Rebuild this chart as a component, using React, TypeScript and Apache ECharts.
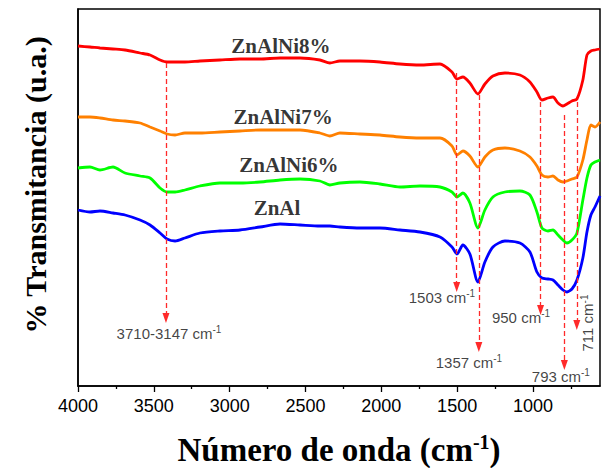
import React, { useEffect, useRef } from "react";
import * as echarts from "echarts";

const wavenumbers = [4000, 3921, 3855, 3769, 3690, 3591, 3525, 3459, 3413, 3360, 3295, 3196, 3064, 2932, 2800, 2668, 2536, 2405, 2339, 2273, 2141, 2009, 1877, 1745, 1613, 1534, 1501, 1462, 1416, 1363, 1317, 1264, 1185, 1086, 1020, 974, 941, 901, 868, 835, 802, 776, 743, 710, 671, 644, 618, 591, 558];

const znAlNi8 = [340, 339, 338, 337, 336, 333, 331, 326, 324, 324, 324, 325, 326, 327, 327, 328, 328, 326, 323, 325, 325, 324, 322, 321, 322, 314, 307, 309, 303, 292, 302, 310, 313, 311, 304, 294, 286, 288, 289, 283, 280, 282, 285, 287, 306, 331, 335, 336, 337];
const znAlNi7 = [269, 269, 268, 266, 265, 263, 259, 255, 252, 251, 253, 253, 254, 255, 256, 256, 256, 253, 250, 253, 252, 251, 249, 248, 248, 240, 231, 235, 230, 219, 229, 236, 238, 235, 229, 220, 211, 209, 210, 206, 204, 205, 207, 209, 226, 246, 261, 259, 264];
const znAlNi6 = [218, 219, 216, 219, 213, 210, 208, 198, 194, 194, 196, 200, 203, 203, 204, 206, 207, 205, 201, 203, 204, 202, 199, 200, 199, 194, 189, 193, 183, 158, 176, 189, 194, 195, 191, 174, 158, 155, 156, 151, 146, 143, 146, 153, 186, 208, 221, 224, 226];
const znAl = [176, 174, 175, 173, 171, 166, 161, 153, 147, 145, 148, 153, 155, 156, 159, 162, 161, 160, 160, 159, 158, 158, 156, 154, 149, 139, 132, 141, 132, 104, 124, 139, 145, 143, 134, 114, 108, 107, 106, 101, 96, 94, 97, 106, 128, 154, 171, 179, 190];

const seriesNames = ["ZnAlNi8%", "ZnAlNi7%", "ZnAlNi6%", "ZnAl"];
const seriesColors = ["#ff0000", "#ff8000", "#00ff00", "#0000ff"];
const seriesValues = [znAlNi8, znAlNi7, znAlNi6, znAl];
// sample label anchor: [wavenumber, value]
const sampleLabelPos = [
  [2662, 340],
  [2648, 269],
  [2609, 221],
  [2688, 178],
];

// annotation arrows: wavenumber, start value, end value
const arrowWn = [3420, 1503, 1357, 950, 793, 711];
const arrowStart = [323, 313, 291, 284, 271, 284];
const arrowEnd = [68, 99, 39, 76, 21, 61];
// annotation labels
const annText = ["3710-3147 cm", "1503 cm", "1357 cm", "950 cm", "793 cm", "711 cm"];
const annPos = [
  [3400, 53],
  [1600, 89],
  [1422, 24],
  [1079, 69],
  [816, 10],
  [638, 63],
];
const annRotate = [0, 0, 0, 0, 0, 90];

const majorTicks = [1000, 1500, 2000, 2500, 3000, 3500, 4000];
const minorTicks = [750, 1250, 1750, 2250, 2750, 3250, 3750];

export default function App() {
  const ref = useRef<HTMLDivElement>(null);
  useEffect(() => {
    if (!ref.current) return;
    const chart = echarts.init(ref.current, null, { renderer: "svg" });
    const X_MIN = 558;
    const X_MAX = 4000;
    const lineSeries = seriesValues.map((vals, i) => ({
      type: "line",
      name: seriesNames[i],
      data: wavenumbers.map((w, j) => [w, vals[j]]),
      showSymbol: false,
      smooth: 0.25,
      lineStyle: { color: seriesColors[i], width: 2.8 },
      itemStyle: { color: seriesColors[i] },
      z: 3,
    }));
    const sampleLabels = {
      type: "scatter",
      data: sampleLabelPos.map((p, i) => ({ value: p, name: seriesNames[i] })),
      symbolSize: 0,
      label: {
        show: true,
        position: "inside",
        formatter: (p: any) => p.name,
        fontFamily: "Liberation Serif",
        fontWeight: "bold",
        fontSize: 21,
        color: "#000",
      },
      z: 5,
    };
    const annLabels = {
      type: "scatter",
      data: annPos.map((p, i) => ({
        value: p,
        name: annText[i],
        label: { rotate: annRotate[i] },
      })),
      symbolSize: 0,
      label: {
        show: true,
        position: "inside",
        formatter: (p: any) => `{a|${p.name}}{s|-1}`,
        rich: {
          a: { fontFamily: "Liberation Sans", fontSize: 15, color: "#111", lineHeight: 17 },
          s: { fontFamily: "Liberation Sans", fontSize: 10, color: "#111", verticalAlign: "top", lineHeight: 11 },
        },
      },
      markLine: {
        silent: true,
        symbol: ["none", "triangle"],
        symbolSize: [7, 10],
        label: { show: false },
        lineStyle: { color: "#ff2a2a", type: [5, 3], width: 1.3 },
        itemStyle: { color: "#ff2a2a" },
        data: arrowWn.map((w, i) => [
          { coord: [w, arrowStart[i]] },
          { coord: [w, arrowEnd[i]] },
        ]),
      },
      z: 4,
    };
    chart.setOption({
      animation: false,
      grid: {
        left: 78,
        right: 2,
        top: 9,
        bottom: 82,
        show: true,
        borderColor: "#000",
        borderWidth: 1.5,
        backgroundColor: "transparent",
      },
      xAxis: [
        {
          type: "value",
          inverse: true,
          min: X_MIN,
          max: X_MAX,
          axisLine: { show: true, onZero: false, lineStyle: { color: "#000", width: 1.5 } },
          axisTick: { show: true, inside: false, length: 6, customValues: majorTicks, lineStyle: { color: "#000", width: 1.3 } },
          axisLabel: {
            customValues: majorTicks,
            formatter: (v: number) => String(v),
            margin: 11,
            fontFamily: "Liberation Sans",
            fontSize: 18,
            color: "#000",
          },
          splitLine: { show: false },
        },
        {
          type: "value",
          inverse: true,
          min: X_MIN,
          max: X_MAX,
          position: "bottom",
          axisLine: { show: false },
          axisTick: { show: true, inside: false, length: 3, customValues: minorTicks, lineStyle: { color: "#000", width: 1.3 } },
          axisLabel: { show: false },
          splitLine: { show: false },
        },
      ],
      yAxis: {
        type: "value",
        min: 0,
        max: 377,
        axisLine: { show: true, lineStyle: { color: "#000", width: 1.5 } },
        axisTick: { show: false },
        axisLabel: { show: false },
        splitLine: { show: false },
      },
      graphic: [
        {
          type: "text",
          x: 339,
          y: 450,
          style: {
            text: "{a|Número de onda (cm}{s|-1}{a|)}",
            align: "center",
            verticalAlign: "middle",
            rich: {
              a: { fontFamily: "Liberation Serif", fontWeight: "bold", fontSize: 33, color: "#000", lineHeight: 36 },
              s: { fontFamily: "Liberation Serif", fontWeight: "bold", fontSize: 20, color: "#000", verticalAlign: "top", lineHeight: 22 },
            },
          },
        },
        {
          type: "text",
          x: 35,
          y: 185,
          rotation: Math.PI / 2,
          style: {
            text: "% Transmitancia (u.a.)",
            align: "center",
            verticalAlign: "middle",
            fontFamily: "Liberation Serif",
            fontWeight: "bold",
            fontSize: 30,
            fill: "#000",
          },
        },
      ],
      series: [...lineSeries, sampleLabels, annLabels],
    });
    return () => chart.dispose();
  }, []);
  return (
    <div
      ref={ref}
      style={{ position: "fixed", left: 0, top: 0, width: 602, height: 468, background: "#fff" }}
    />
  );
}
